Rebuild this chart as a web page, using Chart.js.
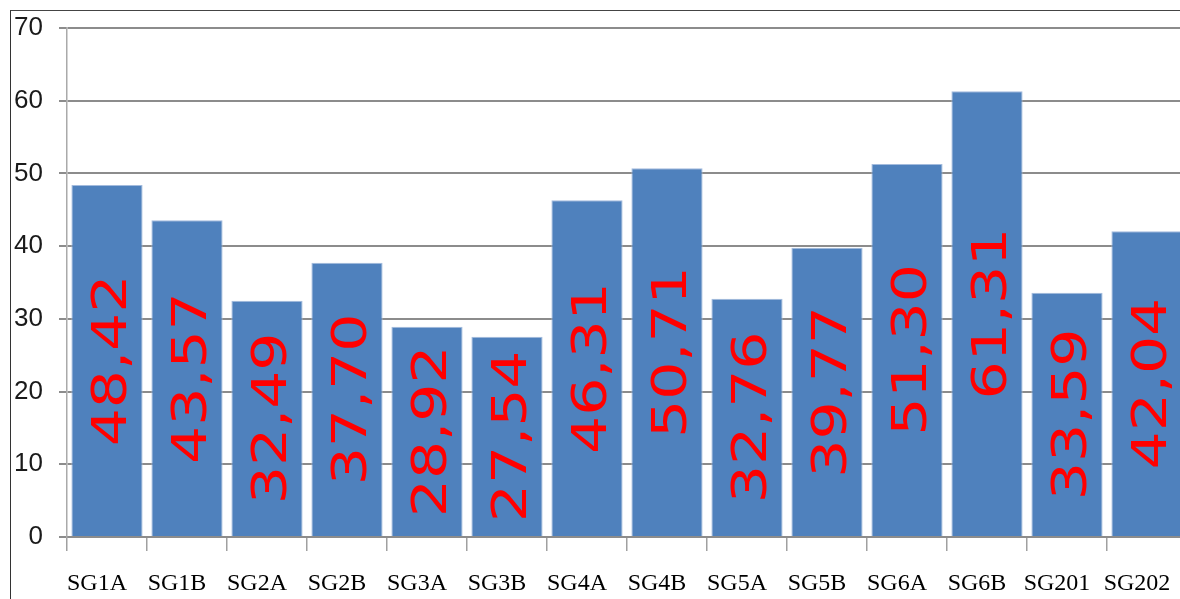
<!DOCTYPE html>
<html>
<head>
<meta charset="utf-8">
<script src="https://cdn.jsdelivr.net/npm/chart.js@4"></script>
<style>
  html, body { margin: 0; padding: 0; background: #fff; overflow: hidden; }
  #wrap { position: relative; width: 1180px; height: 599px; overflow: hidden; }
  #frame { position: absolute; left: 10px; top: 10px; width: 1300px; height: 700px;
           border-left: 1.5px solid #333; border-top: 1.5px solid #444; }
  #c { position: absolute; left: 0; top: 0; }
</style>
</head>
<body>
<div id="wrap">
  <div id="frame"></div>
  <canvas id="c" width="1200" height="599"></canvas>
</div>
<script>
const categories = ['SG1A', 'SG1B', 'SG2A', 'SG2B', 'SG3A', 'SG3B', 'SG4A',
                    'SG4B', 'SG5A', 'SG5B', 'SG6A', 'SG6B', 'SG201', 'SG202'];
const values = [48.42, 43.57, 32.49, 37.70, 28.92, 27.54, 46.31,
                50.71, 32.76, 39.77, 51.30, 61.31, 33.59, 42.04];
const yTicks = [0, 10, 20, 30, 40, 50, 60, 70];

// Value labels written vertically in the middle of each bar
const barValueLabels = {
  id: 'barValueLabels',
  afterDatasetsDraw(chart) {
    const ctx = chart.ctx;
    const meta = chart.getDatasetMeta(0);
    const fontSize = 48;
    ctx.save();
    ctx.fillStyle = '#ff0000';
    ctx.font = fontSize + 'px "DejaVu Sans"';
    ctx.textAlign = 'center';
    ctx.textBaseline = 'alphabetic';
    meta.data.forEach((bar, i) => {
      const text = values[i].toFixed(2).replace('.', ',');
      const cy = (bar.y + bar.base) / 2;
      ctx.save();
      ctx.translate(bar.x + 2, cy);
      ctx.rotate(-Math.PI / 2);
      ctx.scale(1.25, 1);
      ctx.fillText(text, 0, 0.3645 * fontSize);
      ctx.restore();
    });
    ctx.restore();
  }
};

new Chart(document.getElementById('c'), {
  type: 'bar',
  data: {
    labels: categories,
    datasets: [{
      data: values,
      backgroundColor: '#4f81bd',
      borderColor: '#a3bbdd',
      borderWidth: 1,
      barPercentage: 0.89,
      categoryPercentage: 1.0
    }]
  },
  options: {
    responsive: false,
    animation: false,
    devicePixelRatio: 1,
    layout: { padding: { left: 10, top: 28, right: 13, bottom: 0 } },
    plugins: { legend: { display: false }, tooltip: { enabled: false } },
    scales: {
      x: {
        grid: { display: true, drawOnChartArea: false, drawTicks: true, tickLength: 14,
                color: '#a0a0a0', lineWidth: 1.5, offset: true },
        border: { display: true, color: '#8c8c8c', width: 2 },
        ticks: { color: '#000', font: { family: '"Liberation Serif", serif', size: 24 },
                 padding: 18, labelOffset: -10, maxRotation: 0, autoSkip: false },
        afterFit(scale) { scale.height = 62; }
      },
      y: {
        min: 0, max: 70,
        afterBuildTicks(scale) { scale.ticks = yTicks.map(v => ({ value: v })); },
        grid: { color: '#8c8c8c', lineWidth: 2, tickLength: 8, drawTicks: true },
        border: { display: true, color: '#aaaaaa', width: 1.5 },
        ticks: { color: '#1a1a1a', font: { family: '"Liberation Sans", sans-serif', size: 26 },
                 padding: 16 },
        afterFit(scale) { scale.width = 57; scale.paddingTop = 0; scale.paddingBottom = 0; }
      }
    }
  },
  plugins: [barValueLabels]
});
</script>
</body>
</html>
